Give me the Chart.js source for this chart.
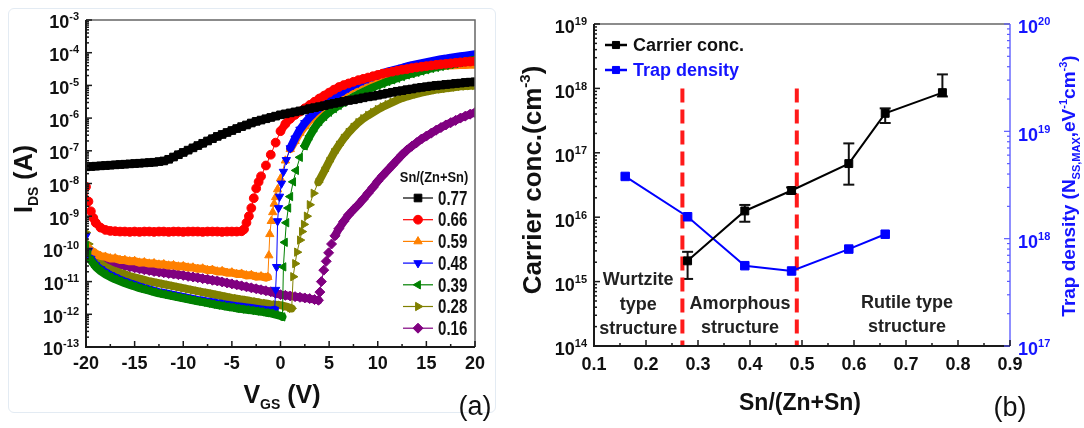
<!DOCTYPE html>
<html>
<head>
<meta charset="utf-8">
<script src="https://cdn.jsdelivr.net/npm/chart.js@4.4.1/dist/chart.umd.min.js"></script>
<style>
  html, body { margin: 0; padding: 0; background: #fff; }
  #wrap { position: relative; width: 1084px; height: 428px; overflow: hidden; background: #fff; }
  #frameA { position: absolute; left: 8px; top: 8px; width: 486px; height: 403px; border: 1px solid #e3ebf3; border-radius: 6px; }
  canvas { position: absolute; top: 0; }
  #cA { left: 0; }
  #cB { left: 490px; }
</style>
</head>
<body>
<div id="wrap">
  <div id="frameA"></div>
  <canvas id="cA" width="490" height="428"></canvas>
  <canvas id="cB" width="594" height="428"></canvas>
</div>
<script>
// ---------------- (a) transfer curves: [V_GS (V), log10(I_DS / A)] ----------------
const seriesLabels = ['0.77', '0.66', '0.59', '0.48', '0.39', '0.28', '0.16'];

const curve077 = [[-20,-7.49],[-19.5,-7.48],[-19,-7.47],[-18.5,-7.46],[-18,-7.45],[-17.5,-7.44],[-17,-7.43],[-16.5,-7.42],[-16,-7.41],[-15.5,-7.40],[-15,-7.39],[-14.5,-7.38],[-14,-7.37],[-13.5,-7.36],[-13,-7.35],[-12.5,-7.33],[-12,-7.31],[-11.5,-7.26],[-11,-7.19],[-10.5,-7.12],[-10,-7.05],[-9.5,-6.98],[-9,-6.91],[-8.5,-6.84],[-8,-6.77],[-7.5,-6.70],[-7,-6.63],[-6.5,-6.56],[-6,-6.50],[-5.5,-6.44],[-5,-6.38],[-4.5,-6.32],[-4,-6.26],[-3.5,-6.21],[-3,-6.15],[-2.5,-6.10],[-2,-6.06],[-1.5,-6.02],[-1,-5.98],[-0.5,-5.94],[0,-5.90],[0.5,-5.87],[1,-5.84],[1.5,-5.81],[2,-5.78],[2.5,-5.75],[3,-5.71],[3.5,-5.68],[4,-5.65],[4.5,-5.62],[5,-5.58],[5.5,-5.55],[6,-5.52],[6.5,-5.49],[7,-5.46],[7.5,-5.44],[8,-5.41],[8.5,-5.38],[9,-5.35],[9.5,-5.33],[10,-5.30],[10.5,-5.27],[11,-5.24],[11.5,-5.21],[12,-5.18],[12.5,-5.16],[13,-5.13],[13.5,-5.11],[14,-5.08],[14.5,-5.06],[15,-5.04],[15.5,-5.02],[16,-5.00],[16.5,-4.99],[17,-4.97],[17.5,-4.96],[18,-4.94],[18.5,-4.93],[19,-4.91],[19.5,-4.90],[20,-4.89]];

const curve066 = [[-20,-8.10],[-19.75,-8.55],[-19.5,-8.85],[-19.25,-9.05],[-19,-9.20],[-18.5,-9.35],[-18,-9.42],[-17.5,-9.45],[-17,-9.46],[-16.5,-9.47],[-16,-9.47],[-15.5,-9.48],[-15,-9.47],[-14.5,-9.48],[-14,-9.47],[-13.5,-9.47],[-13,-9.48],[-12.5,-9.47],[-12,-9.47],[-11.5,-9.48],[-11,-9.47],[-10.5,-9.47],[-10,-9.48],[-9.5,-9.47],[-9,-9.47],[-8.5,-9.47],[-8,-9.48],[-7.5,-9.47],[-7,-9.47],[-6.5,-9.47],[-6,-9.48],[-5.5,-9.47],[-5,-9.47],[-4.5,-9.47],[-4,-9.46],[-3.75,-9.40],[-3.5,-9.20],[-3.25,-9.00],[-3,-8.75],[-2.75,-8.45],[-2.5,-8.15],[-2.25,-7.95],[-2,-7.78],[-1.5,-7.45],[-1,-7.12],[-0.5,-6.75],[0,-6.40],[0.5,-6.18],[1,-6.02],[1.5,-5.90],[2,-5.80],[2.5,-5.70],[3,-5.60],[3.5,-5.50],[4,-5.40],[4.5,-5.31],[5,-5.22],[5.5,-5.13],[6,-5.05],[6.5,-4.99],[7,-4.94],[7.5,-4.89],[8,-4.84],[8.5,-4.80],[9,-4.76],[9.5,-4.72],[10,-4.68],[10.5,-4.64],[11,-4.61],[11.5,-4.58],[12,-4.55],[12.5,-4.52],[13,-4.50],[13.5,-4.47],[14,-4.45],[14.5,-4.43],[15,-4.41],[15.5,-4.39],[16,-4.37],[16.5,-4.355],[17,-4.34],[17.5,-4.325],[18,-4.31],[18.5,-4.295],[19,-4.28],[19.5,-4.27],[20,-4.26]];

const curve059 = [[-20,-9.90],[-19.5,-10.05],[-19,-10.14],[-18.5,-10.22],[-18,-10.24],[-17.5,-10.29],[-17,-10.29],[-16.5,-10.34],[-16,-10.34],[-15.5,-10.38],[-15,-10.37],[-14.5,-10.42],[-14,-10.41],[-13.5,-10.45],[-13,-10.44],[-12.5,-10.48],[-12,-10.47],[-11.5,-10.51],[-11,-10.50],[-10.5,-10.54],[-10,-10.53],[-9.5,-10.57],[-9,-10.57],[-8.5,-10.61],[-8,-10.60],[-7.5,-10.65],[-7,-10.64],[-6.5,-10.69],[-6,-10.68],[-5.5,-10.73],[-5,-10.72],[-4.5,-10.77],[-4,-10.76],[-3.5,-10.81],[-3,-10.80],[-2.5,-10.85],[-2,-10.84],[-1.5,-10.88],[-1.3,-10.86],[-1.2,-10.20],[-1.1,-9.55],[-0.95,-9.15],[-0.8,-8.88],[-0.65,-8.62],[-0.5,-8.42],[-0.3,-8.18],[0,-7.85],[0.5,-7.30],[1,-6.95],[1.5,-6.70],[2,-6.45],[2.5,-6.25],[3,-6.07],[3.5,-5.92],[4,-5.78],[4.5,-5.65],[5,-5.53],[5.5,-5.42],[6,-5.32],[6.5,-5.23],[7,-5.15],[7.5,-5.07],[8,-5.00],[8.5,-4.94],[9,-4.88],[9.5,-4.82],[10,-4.77],[10.5,-4.72],[11,-4.68],[11.5,-4.64],[12,-4.60],[12.5,-4.57],[13,-4.54],[13.5,-4.51],[14,-4.49],[14.5,-4.47],[15,-4.45],[15.5,-4.43],[16,-4.42],[16.5,-4.41],[17,-4.40],[17.5,-4.39],[18,-4.385],[18.5,-4.38],[19,-4.375],[19.5,-4.37],[20,-4.365]];

const curve048 = [[-20,-9.60],[-19.75,-10.05],[-19.5,-10.30],[-19,-10.50],[-18.5,-10.62],[-18,-10.72],[-17.5,-10.80],[-17,-10.87],[-16.5,-10.94],[-16,-11.00],[-15.5,-11.05],[-15,-11.10],[-14.5,-11.15],[-14,-11.20],[-13.5,-11.24],[-13,-11.28],[-12.5,-11.32],[-12,-11.35],[-11.5,-11.38],[-11,-11.41],[-10.5,-11.44],[-10,-11.47],[-9.5,-11.50],[-9,-11.53],[-8.5,-11.56],[-8,-11.58],[-7.5,-11.61],[-7,-11.63],[-6.5,-11.66],[-6,-11.68],[-5.5,-11.71],[-5,-11.73],[-4.5,-11.75],[-4,-11.77],[-3.5,-11.79],[-3,-11.81],[-2.5,-11.83],[-2,-11.85],[-1.5,-11.87],[-1,-11.88],[-0.6,-11.86],[-0.5,-11.25],[-0.4,-10.55],[-0.3,-9.15],[-0.2,-8.75],[-0.1,-8.40],[0.1,-8.00],[0.3,-7.64],[0.6,-7.28],[1,-6.92],[1.5,-6.62],[2,-6.35],[2.5,-6.15],[3,-5.98],[3.5,-5.83],[4,-5.70],[4.5,-5.58],[5,-5.46],[5.5,-5.35],[6,-5.25],[6.5,-5.16],[7,-5.07],[7.5,-4.99],[8,-4.92],[8.5,-4.85],[9,-4.79],[9.5,-4.73],[10,-4.68],[10.5,-4.63],[11,-4.58],[11.5,-4.54],[12,-4.50],[12.5,-4.46],[13,-4.42],[13.5,-4.38],[14,-4.35],[14.5,-4.32],[15,-4.29],[15.5,-4.26],[16,-4.23],[16.5,-4.20],[17,-4.18],[17.5,-4.15],[18,-4.13],[18.5,-4.11],[19,-4.09],[19.5,-4.07],[20,-4.05]];

const curve039 = [[-20,-9.90],[-19.75,-10.15],[-19.5,-10.35],[-19,-10.55],[-18.5,-10.68],[-18,-10.78],[-17.5,-10.86],[-17,-10.93],[-16.5,-10.99],[-16,-11.05],[-15.5,-11.10],[-15,-11.15],[-14.5,-11.20],[-14,-11.24],[-13.5,-11.28],[-13,-11.32],[-12.5,-11.36],[-12,-11.39],[-11.5,-11.42],[-11,-11.45],[-10.5,-11.48],[-10,-11.51],[-9.5,-11.54],[-9,-11.57],[-8.5,-11.60],[-8,-11.63],[-7.5,-11.66],[-7,-11.69],[-6.5,-11.72],[-6,-11.74],[-5.5,-11.77],[-5,-11.79],[-4.5,-11.82],[-4,-11.84],[-3.5,-11.86],[-3,-11.88],[-2.5,-11.90],[-2,-11.92],[-1.5,-11.95],[-1,-11.97],[-0.5,-12.01],[0,-12.05],[0.2,-12.08],[0.3,-10.55],[0.45,-9.80],[0.6,-9.20],[0.8,-8.75],[1,-8.40],[1.3,-7.95],[1.6,-7.60],[2,-7.20],[2.5,-6.85],[3,-6.55],[3.5,-6.30],[4,-6.10],[4.5,-5.95],[5,-5.82],[5.5,-5.71],[6,-5.61],[6.5,-5.52],[7,-5.43],[7.5,-5.35],[8,-5.27],[8.5,-5.20],[9,-5.13],[9.5,-5.06],[10,-5.00],[10.5,-4.94],[11,-4.88],[11.5,-4.83],[12,-4.78],[12.5,-4.73],[13,-4.68],[13.5,-4.64],[14,-4.60],[14.5,-4.56],[15,-4.52],[15.5,-4.48],[16,-4.45],[16.5,-4.42],[17,-4.39],[17.5,-4.36],[18,-4.33],[18.5,-4.30],[19,-4.27],[19.5,-4.24],[20,-4.21]];

const curve028 = [[-20,-9.50],[-19.75,-9.85],[-19.5,-10.05],[-19,-10.30],[-18.5,-10.45],[-18,-10.55],[-17.5,-10.62],[-17,-10.68],[-16.5,-10.73],[-16,-10.78],[-15.5,-10.83],[-15,-10.87],[-14.5,-10.91],[-14,-10.95],[-13.5,-10.99],[-13,-11.02],[-12.5,-11.05],[-12,-11.08],[-11.5,-11.11],[-11,-11.14],[-10.5,-11.17],[-10,-11.20],[-9.5,-11.23],[-9,-11.26],[-8.5,-11.29],[-8,-11.32],[-7.5,-11.35],[-7,-11.38],[-6.5,-11.41],[-6,-11.44],[-5.5,-11.47],[-5,-11.50],[-4.5,-11.52],[-4,-11.55],[-3.5,-11.57],[-3,-11.60],[-2.5,-11.62],[-2,-11.65],[-1.5,-11.67],[-1,-11.70],[-0.5,-11.71],[0,-11.72],[0.5,-11.76],[1,-11.80],[1.15,-11.82],[1.3,-10.85],[1.5,-10.45],[1.7,-10.10],[2,-9.73],[2.2,-9.47],[2.4,-9.25],[2.7,-9.00],[3,-8.65],[3.4,-8.30],[3.9,-7.96],[4.5,-7.62],[5,-7.33],[5.5,-7.06],[6,-6.83],[6.5,-6.62],[7,-6.44],[7.5,-6.28],[8,-6.14],[8.5,-6.02],[9,-5.92],[9.5,-5.83],[10,-5.74],[10.5,-5.66],[11,-5.59],[11.5,-5.52],[12,-5.45],[12.5,-5.39],[13,-5.34],[13.5,-5.30],[14,-5.26],[14.5,-5.22],[15,-5.19],[15.5,-5.16],[16,-5.13],[16.5,-5.11],[17,-5.09],[17.5,-5.07],[18,-5.05],[18.5,-5.03],[19,-5.02],[19.5,-5.01],[20,-5.00]];

const curve016 = [[-20,-9.95],[-19.75,-10.05],[-19.5,-10.12],[-19,-10.22],[-18.5,-10.29],[-18,-10.35],[-17.5,-10.40],[-17,-10.44],[-16.5,-10.48],[-16,-10.52],[-15.5,-10.55],[-15,-10.58],[-14.5,-10.61],[-14,-10.64],[-13.5,-10.66],[-13,-10.69],[-12.5,-10.71],[-12,-10.73],[-11.5,-10.75],[-11,-10.77],[-10.5,-10.79],[-10,-10.81],[-9.5,-10.84],[-9,-10.86],[-8.5,-10.88],[-8,-10.91],[-7.5,-10.93],[-7,-10.96],[-6.5,-10.98],[-6,-11.01],[-5.5,-11.04],[-5,-11.07],[-4.5,-11.10],[-4,-11.13],[-3.5,-11.16],[-3,-11.19],[-2.5,-11.22],[-2,-11.25],[-1.5,-11.28],[-1,-11.31],[-0.5,-11.36],[0,-11.40],[0.5,-11.42],[1,-11.44],[1.5,-11.46],[2,-11.48],[2.5,-11.50],[3,-11.52],[3.5,-11.55],[3.9,-11.57],[4.05,-11.32],[4.2,-11.00],[4.45,-10.65],[4.7,-10.38],[4.95,-10.12],[5.25,-9.85],[5.6,-9.60],[6,-9.38],[6.5,-9.16],[7,-8.96],[7.5,-8.80],[8,-8.65],[8.5,-8.48],[9,-8.30],[9.5,-8.12],[10,-7.93],[10.5,-7.76],[11,-7.60],[11.5,-7.44],[12,-7.28],[12.5,-7.12],[13,-6.98],[13.5,-6.86],[14,-6.75],[14.5,-6.64],[15,-6.55],[15.5,-6.46],[16,-6.37],[16.5,-6.29],[17,-6.21],[17.5,-6.14],[18,-6.07],[18.5,-6.00],[19,-5.94],[19.5,-5.88],[20,-5.83]];

const vgsTicks = [-20, -15, -10, -5, 0, 5, 10, 15, 20];
const idsDecades = [-13, -12, -11, -10, -9, -8, -7, -6, -5, -4, -3];

// ---------------- (b) carrier concentration and trap density ----------------
const snCarrier   = [0.28, 0.39, 0.48, 0.59, 0.66, 0.77];
const carrierConc = [2.1e15, 1.25e16, 2.6e16, 6.8e16, 4.1e17, 8.6e17];
const carrierHigh = [2.9e15, 1.55e16, 2.9e16, 1.4e17, 4.9e17, 1.65e18];
const carrierLow  = [1.1e15, 8.5e15, 2.3e16, 3.2e16, 2.9e17, 7.5e17];
const snTrap      = [0.16, 0.28, 0.39, 0.48, 0.59, 0.66];
const trapDensity = [3.8e18, 1.6e18, 5.6e17, 5.0e17, 8.0e17, 1.1e18];
const phaseBounds = [0.27, 0.49];
const snTicks     = [0.1, 0.2, 0.3, 0.4, 0.5, 0.6, 0.7, 0.8, 0.9];
const carrierDecades = [14, 15, 16, 17, 18, 19];
const trapDecades    = [17, 18, 19, 20];

// ---------------- drawing helpers ----------------
const FONT = '"Liberation Sans", Arial, Helvetica, sans-serif';
const fnt = (size, bold = true) => (bold ? 'bold ' : '') + size + 'px ' + FONT;

function seg(ctx, x1, y1, x2, y2) { ctx.beginPath(); ctx.moveTo(x1, y1); ctx.lineTo(x2, y2); ctx.stroke(); }

function runWidth(ctx, parts) {
  let w = 0;
  for (const p of parts) { ctx.font = fnt(p.size, p.bold !== false); w += ctx.measureText(p.t).width; }
  return w;
}
// parts: [{t, size, dy, bold}], y is the baseline of the main text
function drawRun(ctx, parts, x, y, align) {
  const w = runWidth(ctx, parts);
  let cx = align === 'right' ? x - w : align === 'center' ? x - w / 2 : x;
  ctx.textAlign = 'left'; ctx.textBaseline = 'alphabetic';
  for (const p of parts) {
    ctx.font = fnt(p.size, p.bold !== false);
    ctx.fillText(p.t, cx, y + (p.dy || 0));
    cx += ctx.measureText(p.t).width;
  }
}
const pow10 = (e, size, sup) => [{ t: '10', size }, { t: String(e), size: sup, dy: -size * 0.45 }];

function drawRotated(ctx, parts, cx, cy, size) {
  ctx.save(); ctx.translate(cx, cy); ctx.rotate(-Math.PI / 2);
  drawRun(ctx, parts, 0, size * 0.36, 'center');
  ctx.restore();
}

// ---------------- panel (a) ----------------
const styleA = [
  { color: '#000000', pointStyle: 'rect',     rotation: 0,   radius: 5.4, order: 0 },
  { color: '#ff0000', pointStyle: 'circle',   rotation: 0,   radius: 4.4, order: 1 },
  { color: '#ff8000', pointStyle: 'triangle', rotation: 0,   radius: 4.8, order: 4 },
  { color: '#0000ff', pointStyle: 'triangle', rotation: 180, radius: 4.8, order: 3 },
  { color: '#008000', pointStyle: 'triangle', rotation: 270, radius: 4.8, order: 2 },
  { color: '#808000', pointStyle: 'triangle', rotation: 90,  radius: 4.8, order: 5 },
  { color: '#800080', pointStyle: 'rectRot',  rotation: 0,   radius: 5,   order: 6 }
];
const curvesA = [curve077, curve066, curve059, curve048, curve039, curve028, curve016];

const datasetsA = curvesA.map((c, i) => ({
  label: seriesLabels[i],
  data: c.map(p => ({ x: p[0], y: Math.pow(10, p[1]) })),
  borderColor: styleA[i].color,
  backgroundColor: styleA[i].color,
  borderWidth: 1,
  pointStyle: styleA[i].pointStyle,
  pointRotation: styleA[i].rotation,
  pointRadius: styleA[i].radius,
  pointBorderWidth: 1,
  order: styleA[i].order,
  tension: 0
}));

// Closely spaced markers merge into a solid band; on steep stretches only the hairline remains.
const markerBands = {
  id: 'markerBands',
  beforeDatasetDraw(chart, args) {
    const ds = chart.data.datasets[args.index];
    const pts = args.meta.data;
    const { ctx, chartArea: a } = chart;
    ctx.save();
    ctx.beginPath(); ctx.rect(a.left, a.top, a.right - a.left, a.bottom - a.top); ctx.clip();
    ctx.strokeStyle = ds.borderColor; ctx.lineWidth = 8;
    ctx.lineCap = 'round'; ctx.lineJoin = 'round';
    ctx.beginPath();
    let open = false;
    for (let i = 1; i < pts.length; i++) {
      const p0 = pts[i - 1], p1 = pts[i];
      const flat = Math.abs(p1.y - p0.y) <= 2.2 * Math.abs(p1.x - p0.x);
      if (flat) {
        if (!open) { ctx.moveTo(p0.x, p0.y); open = true; }
        ctx.lineTo(p1.x, p1.y);
      } else {
        open = false;
      }
    }
    ctx.stroke();
    ctx.restore();
  }
};

const axesA = {
  id: 'axesA',
  afterDraw(chart) {
    const { ctx, chartArea: a, scales: { x, y } } = chart;
    ctx.save();
    ctx.lineCap = 'butt';
    // frame
    ctx.strokeStyle = '#666'; ctx.lineWidth = 1.5;
    ctx.beginPath(); ctx.moveTo(a.left, a.top); ctx.lineTo(a.right, a.top); ctx.lineTo(a.right, a.bottom); ctx.stroke();
    ctx.strokeStyle = '#1a1a1a'; ctx.lineWidth = 2;
    ctx.beginPath(); ctx.moveTo(a.left, a.top); ctx.lineTo(a.left, a.bottom); ctx.lineTo(a.right, a.bottom); ctx.stroke();
    // y ticks (log, inward)
    ctx.lineWidth = 1.5; ctx.fillStyle = '#111';
    idsDecades.forEach((e, k) => {
      const py = y.getPixelForValue(Math.pow(10, e));
      seg(ctx, a.left, py, a.left + 6, py);
      if (k < idsDecades.length - 1) {
        for (let m = 2; m <= 9; m++) {
          const pm = y.getPixelForValue(m * Math.pow(10, e));
          seg(ctx, a.left, pm, a.left + 3, pm);
        }
      }
      drawRun(ctx, pow10(e, 18, 11), a.left - 7, py + 0.36 * 18 + 2, 'right');
    });
    // x ticks (inward)
    vgsTicks.forEach((v, k) => {
      const px = x.getPixelForValue(v);
      seg(ctx, px, a.bottom, px, a.bottom - 6);
      if (k < vgsTicks.length - 1) {
        const pm = x.getPixelForValue(v + 2.5);
        seg(ctx, pm, a.bottom, pm, a.bottom - 3);
      }
      drawRun(ctx, [{ t: String(v), size: 18 }], px, 369, 'center');
    });
    // axis titles
    ctx.fillStyle = '#111';
    drawRotated(ctx, [{ t: 'I', size: 25 }, { t: 'DS', size: 14, dy: 6 }, { t: ' (A)', size: 25 }], 23, 179, 25);
    drawRun(ctx, [{ t: 'V', size: 25 }, { t: 'GS', size: 14, dy: 6 }, { t: ' (V)', size: 25 }], 282, 403, 'center');
    ctx.font = fnt(27, false); ctx.textAlign = 'center'; ctx.textBaseline = 'middle';
    ctx.fillText('(a)', 475, 408);
    // legend
    ctx.fillStyle = '#111';
    ctx.save(); ctx.translate(434, 178); ctx.scale(0.92, 1);
    ctx.font = fnt(14); ctx.textAlign = 'center'; ctx.textBaseline = 'middle';
    ctx.fillText('Sn/(Zn+Sn)', 0, 0);
    ctx.restore();
    chart.data.datasets.forEach((ds, i) => {
      const yy = 198 + i * 21.7;
      ctx.strokeStyle = ds.borderColor; ctx.lineWidth = 1.2;
      seg(ctx, 403, yy, 433, yy);
      ctx.fillStyle = ds.backgroundColor; ctx.lineWidth = 1;
      Chart.helpers.drawPoint(ctx, { pointStyle: ds.pointStyle, rotation: ds.pointRotation, radius: ds.pointRadius, borderWidth: 1 }, 418, yy);
      ctx.fillStyle = '#111';
      ctx.save(); ctx.translate(438, yy + 1); ctx.scale(0.72, 1);
      ctx.font = fnt(21); ctx.textAlign = 'left'; ctx.textBaseline = 'middle';
      ctx.fillText(ds.label, 0, 0);
      ctx.restore();
    });
    ctx.restore();
  }
};

new Chart(document.getElementById('cA'), {
  type: 'line',
  data: { datasets: datasetsA },
  options: {
    responsive: false, animation: false, events: [],
    layout: { padding: { left: 86, right: 15, top: 20, bottom: 81 } },
    plugins: { legend: { display: false }, tooltip: { enabled: false } },
    scales: {
      x: { type: 'linear', min: -20, max: 20, display: false },
      y: { type: 'logarithmic', min: 1e-13, max: 1e-3, display: false }
    }
  },
  plugins: [markerBands, axesA]
});

// ---------------- panel (b) ----------------
const boundaryLines = phaseBounds.map(b => ({
  data: [{ x: b, y: 1e18 }, { x: b, y: 1e14 }],
  yAxisID: 'y',
  borderColor: '#ff1a1a', borderWidth: 4, borderDash: [14, 7],
  pointRadius: 0, order: 5
}));

const errorBars = {
  id: 'errorBars',
  beforeDatasetsDraw(chart) {
    const { ctx, scales: { x, y } } = chart;
    ctx.save(); ctx.strokeStyle = '#111'; ctx.lineWidth = 2;
    snCarrier.forEach((s, i) => {
      const px = x.getPixelForValue(s);
      const hi = y.getPixelForValue(carrierHigh[i]);
      const lo = y.getPixelForValue(carrierLow[i]);
      seg(ctx, px, hi, px, lo);
      seg(ctx, px - 5.5, hi, px + 5.5, hi);
      seg(ctx, px - 5.5, lo, px + 5.5, lo);
    });
    ctx.restore();
  }
};

const axesB = {
  id: 'axesB',
  afterDraw(chart) {
    const { ctx, chartArea: a, scales: { x, y, y2 } } = chart;
    ctx.save();
    // frame
    ctx.strokeStyle = '#666'; ctx.lineWidth = 1.5;
    seg(ctx, a.left, a.top, a.right, a.top);
    ctx.strokeStyle = '#6a6aff'; ctx.lineWidth = 1.5;
    seg(ctx, a.right, a.top, a.right, a.bottom);
    ctx.strokeStyle = '#1a1a1a'; ctx.lineWidth = 2;
    ctx.beginPath(); ctx.moveTo(a.left, a.top); ctx.lineTo(a.left, a.bottom); ctx.lineTo(a.right, a.bottom); ctx.stroke();
    // left y ticks
    ctx.lineWidth = 1.5; ctx.fillStyle = '#111';
    carrierDecades.forEach((e, k) => {
      const py = y.getPixelForValue(Math.pow(10, e));
      seg(ctx, a.left, py, a.left + 6, py);
      if (k < carrierDecades.length - 1) {
        for (let m = 2; m <= 9; m++) {
          const pm = y.getPixelForValue(m * Math.pow(10, e));
          seg(ctx, a.left, pm, a.left + 3, pm);
        }
      }
      drawRun(ctx, pow10(e, 18, 11), a.left - 7, py + 0.36 * 18 + 3, 'right');
    });
    // right y ticks
    ctx.strokeStyle = '#5a5aff'; ctx.fillStyle = '#1414ff'; ctx.lineWidth = 1.2;
    trapDecades.forEach((e, k) => {
      const py = y2.getPixelForValue(Math.pow(10, e));
      seg(ctx, a.right, py, a.right - 6, py);
      if (k < trapDecades.length - 1) {
        for (let m = 2; m <= 9; m++) {
          const pm = y2.getPixelForValue(m * Math.pow(10, e));
          seg(ctx, a.right, pm, a.right - 3, pm);
        }
      }
      drawRun(ctx, pow10(e, 18, 11), a.right + 8, py + 0.36 * 18 + 3, 'left');
    });
    // x ticks
    ctx.strokeStyle = '#1a1a1a'; ctx.fillStyle = '#111'; ctx.lineWidth = 1.5;
    snTicks.forEach((v, k) => {
      const px = x.getPixelForValue(v);
      seg(ctx, px, a.bottom, px, a.bottom - 6);
      if (k < snTicks.length - 1) {
        const pm = x.getPixelForValue(v + 0.05);
        seg(ctx, pm, a.bottom, pm, a.bottom - 3);
      }
      drawRun(ctx, [{ t: v.toFixed(1), size: 18 }], px, 370, 'center');
    });
    // axis titles
    ctx.fillStyle = '#111';
    drawRotated(ctx, [{ t: 'Carrier conc.(cm', size: 26 }, { t: '-3', size: 15, dy: -11 }, { t: ')', size: 26 }], 42, 180, 26);
    ctx.fillStyle = '#1414ff';
    drawRotated(ctx, [{ t: 'Trap density (N', size: 19 }, { t: 'SS,MAX', size: 11, dy: 5 }, { t: ',eV', size: 19 }, { t: '-1', size: 11, dy: -8 }, { t: 'cm', size: 19 }, { t: '-3', size: 11, dy: -8 }, { t: ')', size: 19 }], 578, 186, 19);
    ctx.fillStyle = '#111';
    drawRun(ctx, [{ t: 'Sn/(Zn+Sn)', size: 23 }], 310, 410, 'center');
    ctx.font = fnt(27, false); ctx.textAlign = 'center'; ctx.textBaseline = 'middle';
    ctx.fillText('(b)', 520, 409);
    // region labels
    ctx.fillStyle = '#222'; ctx.font = fnt(18); ctx.textAlign = 'center'; ctx.textBaseline = 'middle';
    const xw = x.getPixelForValue(0.185), xa = x.getPixelForValue(0.381), xr = x.getPixelForValue(0.702);
    ctx.fillText('Wurtzite', xw, a.bottom - 66);
    ctx.fillText('type', xw, a.bottom - 41);
    ctx.fillText('structure', xw, a.bottom - 17);
    ctx.fillText('Amorphous', xa, a.bottom - 42);
    ctx.fillText('structure', xa, a.bottom - 18);
    ctx.fillText('Rutile type', xr, a.bottom - 43);
    ctx.fillText('structure', xr, a.bottom - 19);
    // legend
    const items = [
      { ds: chart.data.datasets[0], y: 45, text: '#111' },
      { ds: chart.data.datasets[1], y: 70, text: '#1414ff' }
    ];
    items.forEach(it => {
      ctx.strokeStyle = it.ds.borderColor; ctx.lineWidth = 2.5;
      seg(ctx, 115, it.y, 137, it.y);
      ctx.fillStyle = it.ds.backgroundColor; ctx.lineWidth = 1;
      Chart.helpers.drawPoint(ctx, { pointStyle: 'rect', rotation: 0, radius: 5, borderWidth: 1 }, 126, it.y);
      ctx.fillStyle = it.text; ctx.font = fnt(18); ctx.textAlign = 'left'; ctx.textBaseline = 'middle';
      ctx.fillText(it.ds.label, 143, it.y + 1);
    });
    ctx.restore();
  }
};

new Chart(document.getElementById('cB'), {
  type: 'line',
  data: {
    datasets: [
      {
        label: 'Carrier conc.',
        data: snCarrier.map((s, i) => ({ x: s, y: carrierConc[i] })),
        yAxisID: 'y',
        borderColor: '#000', backgroundColor: '#000', borderWidth: 2,
        pointStyle: 'rect', pointRadius: 5.6, pointBorderWidth: 1, order: 0
      },
      {
        label: 'Trap density',
        data: snTrap.map((s, i) => ({ x: s, y: trapDensity[i] })),
        yAxisID: 'y2',
        borderColor: '#0000ff', backgroundColor: '#0000ff', borderWidth: 2,
        pointStyle: 'rect', pointRadius: 6, pointBorderWidth: 1, order: 1
      },
      ...boundaryLines
    ]
  },
  options: {
    responsive: false, animation: false, events: [],
    layout: { padding: { left: 104, right: 74, top: 24, bottom: 82 } },
    plugins: { legend: { display: false }, tooltip: { enabled: false } },
    scales: {
      x: { type: 'linear', min: 0.1, max: 0.9, display: false },
      y: { type: 'logarithmic', min: 1e14, max: 1e19, display: false },
      y2: { type: 'logarithmic', position: 'right', min: 1e17, max: 1e20, display: false }
    }
  },
  plugins: [errorBars, axesB]
});
</script>
</body>
</html>
